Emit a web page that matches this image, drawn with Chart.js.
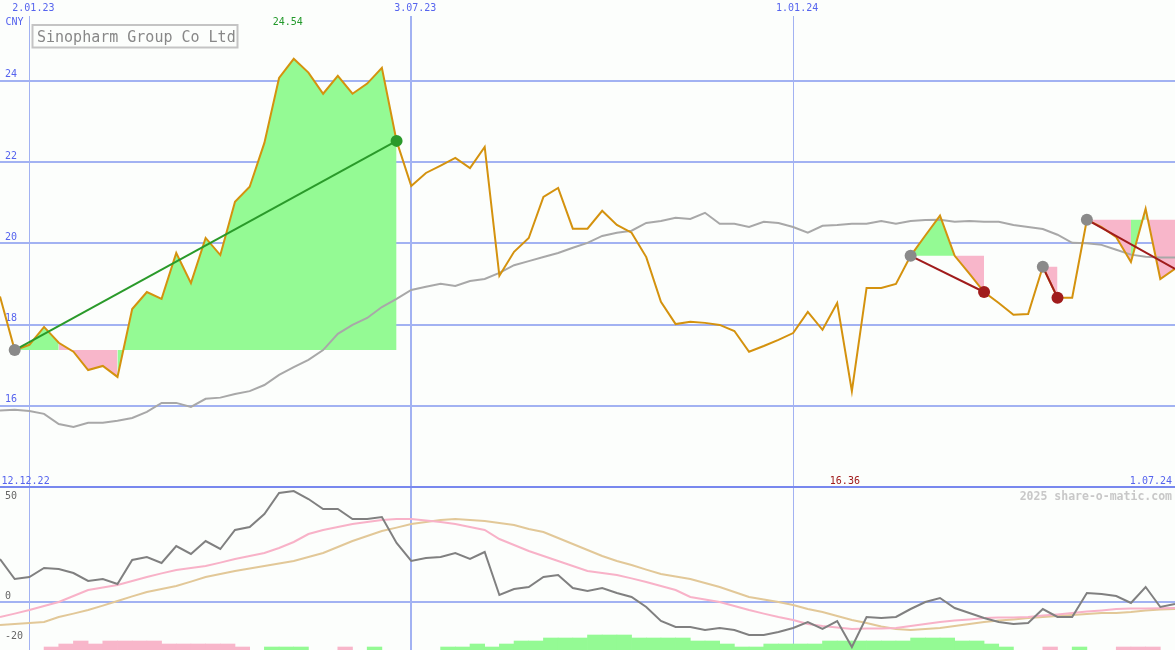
<!DOCTYPE html>
<html>
<head>
<meta charset="utf-8">
<script src="https://cdn.jsdelivr.net/npm/chart.js@4.4.0/dist/chart.umd.min.js"></script>
<style>
  html, body { margin: 0; padding: 0; background: #fcfefc; }
  #wrap { position: relative; width: 1175px; height: 650px; overflow: hidden; }
  #top { position: absolute; left: 0; top: 0; }
  #bot { position: absolute; left: 0; top: 488px; }
</style>
</head>
<body>
<div id="wrap">
  <canvas id="top" width="1175" height="488"></canvas>
  <canvas id="bot" width="1175" height="162"></canvas>
</div>
<script>
// weekly closes, 19.12.22 .. 1.07.24 (index = week)
var price = [18.69,17.37,17.50,17.94,17.55,17.33,16.88,16.98,16.71,18.38,
             18.80,18.63,19.76,19.02,20.13,19.71,21.02,21.39,22.47,24.07,
             24.54,24.20,23.68,24.12,23.68,23.93,24.32,22.52,21.41,21.73,
             21.91,22.10,21.85,22.37,19.20,19.79,20.13,21.14,21.36,20.36,
             20.36,20.80,20.45,20.26,19.66,18.56,18.01,18.07,18.04,17.99,
             17.84,17.33,17.47,17.62,17.79,18.31,17.87,18.53,16.36,18.90,
             18.90,19.00,19.69,20.19,20.68,19.69,19.25,18.80,18.53,18.24,
             18.26,19.42,18.66,18.66,20.58,20.40,20.15,19.54,20.85,19.12,
             19.37];

var avg = [15.88,15.90,15.87,15.80,15.55,15.48,15.58,15.58,15.63,15.70,
           15.85,16.07,16.07,15.97,16.17,16.20,16.29,16.36,16.51,16.76,
           16.95,17.13,17.37,17.77,17.99,18.16,18.43,18.63,18.85,18.93,
           19.00,18.95,19.07,19.12,19.27,19.46,19.56,19.66,19.76,19.89,
           20.01,20.18,20.26,20.31,20.50,20.55,20.63,20.60,20.75,20.48,
           20.48,20.40,20.53,20.50,20.40,20.26,20.43,20.45,20.48,20.48,
           20.55,20.48,20.55,20.57,20.58,20.53,20.55,20.53,20.53,20.45,
           20.40,20.35,20.21,20.01,20.00,19.96,19.84,19.72,19.67,19.65,
           19.65];

// lower panel
var osc = [21.5,11.5,12.5,17,16.5,14.5,10.5,11.5,9,21,
           22.5,19.5,28,24,30.5,26.5,36,37.5,44,54.5,
           55.5,51.5,46.5,46.5,41.5,41.5,42.5,29.5,20.5,22,
           22.5,24.5,21.5,25,3.5,6.5,7.5,12.5,13.5,7,
           5.5,7,4.5,2.5,-2.5,-9.5,-12.5,-12.5,-14,-13,
           -14,-16.5,-16.5,-15,-13,-10,-13.5,-9.5,-22.5,-7.5,
           -8,-7.5,-3.5,0,2,-3,-5.5,-8,-10,-11,
           -10.5,-3.5,-7.5,-7.5,4.5,4,3,-0.5,7.5,-2.5,
           -1];

var oscFast = [-7.5,-5.8,-4,-2,0,3,6,7.3,8.5,10.5,
               12.5,14.3,16,17,18,19.7,21.5,23,24.5,27,
               30,34,36,37.5,39,40,41,41.5,41.5,40.8,
               40,39,37.5,36,31.5,28.5,25.5,23,20.5,18,
               15.5,14.5,13.5,11.8,10,8,6,2.5,1.2,0,
               -2,-4,-5.8,-7.5,-9,-11,-12,-12.8,-13.5,-13.3,
               -13.2,-13,-12,-11,-10,-9.3,-8.7,-8,-7.8,-7.7,
               -7.5,-6.8,-6.2,-5.5,-4.8,-4.2,-3.5,-3.3,-3.2,-3.1,
               -3];

var oscSlow = [-11.5,-11,-10.5,-10,-7.5,-5.8,-4,-1.8,0.5,2.8,
               5,6.5,8,10.2,12.5,14,15.5,16.8,18,19.2,
               20.5,22.5,24.5,27.5,30.5,33,35.5,37.2,39,40,
               41,41.5,41,40.5,39.5,38.5,36.5,35,32,29,
               26,23,20.5,18.5,16.2,14,12.7,11.5,9.5,7.5,
               5,2.5,1.2,0,-1.5,-3.5,-5,-7,-9,-10.5,
               -12.2,-13.5,-14,-13.5,-13,-12,-11,-10,-9.3,-8.7,
               -8,-7.5,-7,-6.5,-6,-5.5,-5.5,-5,-4.3,-3.8,
               -3.5];

// histogram per week (sign = colour)
var hist = [0,0,0,-1.5,-3,-4.5,-3,-4.5,-4.5,-4.5,
            -4.5,-3,-3,-3,-3,-3,-1.5,0,1.5,1.5,
            1.5,0,0,-1.5,0,1.5,0,0,0,0,
            1.5,1.5,3,1.5,3,4.5,4.5,6,6,6,
            7.5,7.5,7.5,6,6,6,6,4.5,4.5,3,
            1.5,1.5,3,3,3,3,4.5,4.5,4.5,4.5,
            4.5,4.5,6,6,6,4.5,4.5,3,1.5,0,
            0,-1.5,0,1.5,0,0,-1.5,-1.5,-1.5,0];

// trades: entry / exit week
var tradeEntry = [1, 62, 71, 74];
var tradeExit  = [27, 67, 72, 80];
var tradeOpen  = [false, false, false, true];

var dateTicks  = [2, 28, 54];
var dateLabels = ['2.01.23', '3.07.23', '1.01.24'];
var priceTicks = [16, 18, 20, 22, 24];
var oscTicks   = [-20, 0, 50];
var rangeStart = '12.12.22', rangeEnd = '1.07.24';
var currency = 'CNY';
var title = 'Sinopharm Group Co Ltd';
var credit = '2025 share-o-matic.com';

var mono = "'DejaVu Sans Mono', monospace";
var gridBlue = '#a2b2f2', sepBlue = '#7888ee', tickBlue = '#5664ee';
var fillGreen = '#94fa94', fillPink = '#f8b6ca';
var lastWeek = price.length - 1;

function pts(arr) { return arr.map(function(v, i) { return {x: i, y: v}; }); }

function xScale(h, labels) {
  return {
    type: 'linear', position: 'top', min: 0, max: lastWeek, offset: false,
    afterBuildTicks: function(s) { s.ticks = dateTicks.map(function(v) { return {value: v}; }); },
    afterFit: function(s) { s.height = h; s.paddingLeft = 0; s.paddingRight = 0; },
    grid: { color: gridBlue, drawTicks: false, offset: false,
            lineWidth: function(c) { return c.tick && c.tick.value === dateTicks[1] ? 2 : 1; } },
    border: { display: false },
    ticks: { display: labels, color: tickBlue, font: {family: mono, size: 10}, padding: 2, labelOffset: 4,
             maxRotation: 0, autoSkip: false,
             callback: function(v) { var i = dateTicks.indexOf(v); return i < 0 ? '' : dateLabels[i]; } }
  };
}

// ── upper panel ─────────────────────────────
var fills = tradeEntry.map(function(e, t) {
  var level = price[e], seg = [];
  for (var i = e; i <= tradeExit[t]; i++) seg.push({x: i, y: price[i]});
  return {
    type: 'line', data: seg, borderWidth: 0, borderColor: 'rgba(0,0,0,0)', pointRadius: 0,
    backgroundColor: fillGreen, fill: { target: { value: level } },
    segment: { backgroundColor: function(c) { return c.p1.parsed.y >= level ? fillGreen : fillPink; } },
    order: 10
  };
});

var tradeLines = tradeEntry.map(function(e, t) {
  var x1 = tradeExit[t];
  var col = price[x1] > price[e] ? '#2a9a2a' : '#a01c1c';
  return {
    type: 'line', data: [{x: e, y: price[e]}, {x: x1, y: price[x1]}],
    borderColor: col, borderWidth: 2, fill: false,
    pointRadius: [6, tradeOpen[t] ? 0 : 6], pointBorderWidth: 0,
    pointBackgroundColor: ['#8a8a8a', col], order: 1
  };
});

var topTexts = {
  id: 'topTexts',
  afterDraw: function(ch) {
    var c = ch.ctx, sx = ch.scales.x;
    var maxI = price.indexOf(Math.max.apply(null, price));
    var minI = price.indexOf(Math.min.apply(null, price));
    c.save();
    c.font = '10px ' + mono;
    c.textAlign = 'left';
    c.fillStyle = tickBlue;
    c.fillText(currency, 5.5, 25);
    c.fillText(rangeStart, 1.5, 483.5);
    c.textAlign = 'right';
    c.fillText(rangeEnd, 1172, 483.5);
    c.textAlign = 'center';
    c.fillStyle = '#22992a';
    c.fillText(price[maxI].toFixed(2), sx.getPixelForValue(maxI) - 6, 25);
    c.fillStyle = '#a01c1c';
    c.fillText(price[minI].toFixed(2), sx.getPixelForValue(minI) - 7, 483.5);
    // title box
    c.fillStyle = '#fcfefc';
    c.fillRect(32.5, 25, 205, 22.5);
    c.strokeStyle = '#c4c4c4';
    c.lineWidth = 2;
    c.strokeRect(32.5, 25, 205, 22.5);
    c.font = '15px ' + mono;
    c.fillStyle = '#888888';
    c.textAlign = 'left';
    c.fillText(title, 37, 41.5);
    c.restore();
  }
};

new Chart(document.getElementById('top'), {
  type: 'line',
  data: {
    datasets: fills.concat([
      { data: pts(avg), borderColor: '#a8a8a8', borderWidth: 2, pointRadius: 0, fill: false, order: 4 },
      { data: pts(price), borderColor: '#d4920e', borderWidth: 2, pointRadius: 0, fill: false, order: 2 }
    ]).concat(tradeLines)
  },
  options: {
    animation: false, responsive: false, devicePixelRatio: 1, events: [],
    layout: { autoPadding: false, padding: { left: 0, right: 0, top: 0, bottom: 1 } },
    plugins: { legend: { display: false }, tooltip: { enabled: false } },
    scales: {
      x: xScale(16, true),
      y: {
        type: 'linear', position: 'left', min: 14, max: 25.594,
        afterBuildTicks: function(s) { s.ticks = [14].concat(priceTicks).map(function(v) { return {value: v}; }); },
        afterFit: function(s) { s.width = 0; s.paddingTop = 0; s.paddingBottom = 0; },
        grid: { drawTicks: false, lineWidth: 2,
                color: function(c) { return c.tick && c.tick.value === 14 ? sepBlue : gridBlue; } },
        border: { display: false },
        ticks: { mirror: true, padding: 5, labelOffset: -6, color: tickBlue, font: {family: mono, size: 10},
                 callback: function(v) { return v === 14 ? '' : String(v); } }
      }
    }
  },
  plugins: [topTexts]
});

// ── lower panel ─────────────────────────────
var oscMin = -24;
var bars = [], barCols = [];
hist.forEach(function(h, i) {
  if (!h) return;
  bars.push({x: i + 0.5, y: [oscMin, oscMin + Math.abs(h)]});
  barCols.push(h > 0 ? fillGreen : fillPink);
});

var botTexts = {
  id: 'botTexts',
  afterDraw: function(ch) {
    var c = ch.ctx;
    c.save();
    c.font = 'bold 11.5px ' + mono;
    c.fillStyle = '#c8c8c8';
    c.textAlign = 'right';
    c.fillText(credit, 1172, 12);
    c.restore();
  }
};

new Chart(document.getElementById('bot'), {
  type: 'line',
  data: {
    datasets: [
      { type: 'bar', data: bars, backgroundColor: barCols, borderWidth: 0,
        barPercentage: 1, categoryPercentage: 1, grouped: false, order: 20 },
      { data: pts(oscSlow), borderColor: '#e2c898', borderWidth: 2, pointRadius: 0, fill: false, order: 6 },
      { data: pts(oscFast), borderColor: '#f8b2c8', borderWidth: 2, pointRadius: 0, fill: false, order: 5 },
      { data: pts(osc), borderColor: '#808080', borderWidth: 2, pointRadius: 0, fill: false, order: 4 }
    ]
  },
  options: {
    animation: false, responsive: false, devicePixelRatio: 1, events: [],
    layout: { autoPadding: false, padding: 0 },
    plugins: { legend: { display: false }, tooltip: { enabled: false } },
    scales: {
      x: xScale(0, false),
      y: {
        type: 'linear', position: 'left', min: oscMin, max: 57,
        afterBuildTicks: function(s) { s.ticks = oscTicks.map(function(v) { return {value: v}; }); },
        afterFit: function(s) { s.width = 0; s.paddingTop = 0; s.paddingBottom = 0; },
        grid: { drawTicks: false, lineWidth: 2,
                color: function(c) { return c.tick && c.tick.value === 0 ? gridBlue : 'rgba(0,0,0,0)'; } },
        border: { display: false },
        ticks: { mirror: true, padding: 5, labelOffset: -6, color: '#666666', font: {family: mono, size: 10},
                 callback: function(v) { return String(v); } }
      }
    }
  },
  plugins: [botTexts]
});
</script>
</body>
</html>
